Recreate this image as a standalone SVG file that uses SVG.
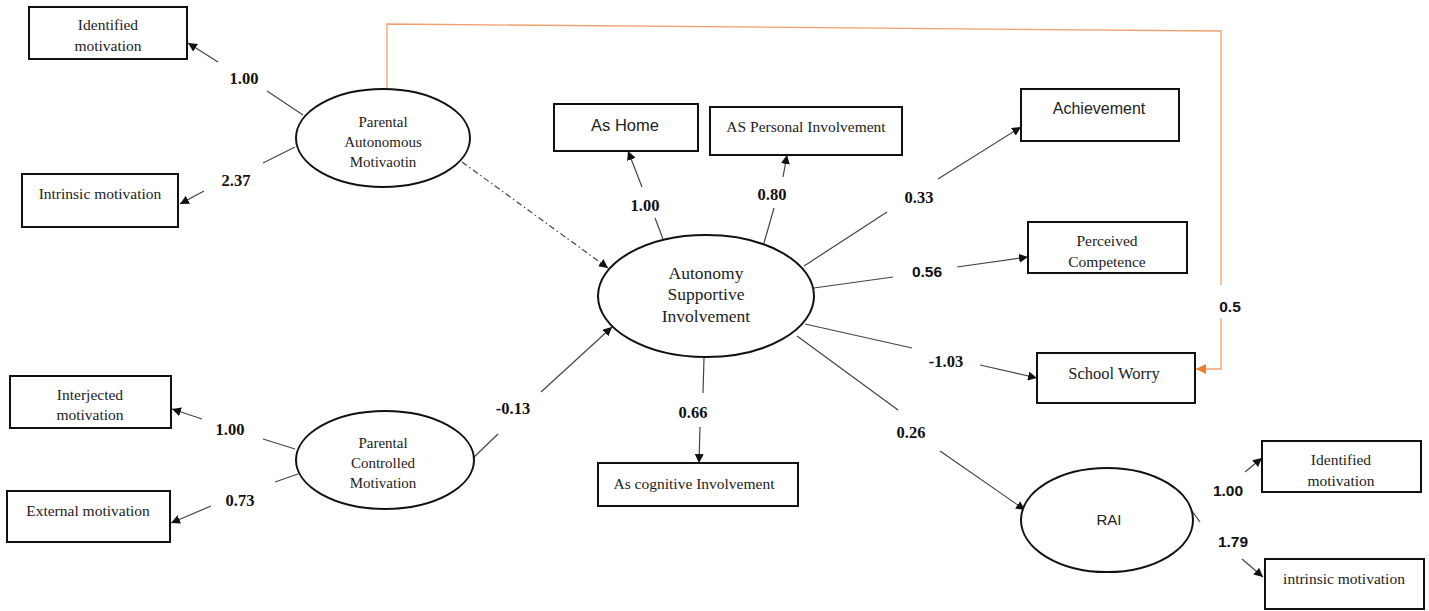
<svg xmlns="http://www.w3.org/2000/svg" width="1429" height="611" viewBox="0 0 1429 611">
<style>
.box{fill:#fff;stroke:#111;stroke-width:2}
.ell{fill:#fff;stroke:#111;stroke-width:2}
.t{font-family:"Liberation Serif","Times New Roman",serif;font-size:15.5px;fill:#222;text-anchor:middle}
.te{font-family:"Liberation Serif","Times New Roman",serif;font-size:15px;fill:#222;text-anchor:middle}
.ts{font-family:"Liberation Sans",Arial,sans-serif;font-size:16px;fill:#222;text-anchor:middle}
.lb{font-family:"Liberation Serif","Times New Roman",serif;font-size:16.5px;font-weight:bold;fill:#111;text-anchor:middle}
.lbs{font-family:"Liberation Sans",Arial,sans-serif;font-size:15.5px;font-weight:bold;fill:#111;text-anchor:middle}
.c{stroke:#444;stroke-width:1.2;fill:none}
.a{stroke:#444;stroke-width:1.2;fill:none;marker-end:url(#ah)}
.o{stroke:#f0a070;stroke-width:1.3;fill:none}
</style>
<defs>
<marker id="ah" viewBox="0 0 10 10" refX="10" refY="5" markerWidth="9" markerHeight="9" markerUnits="userSpaceOnUse" orient="auto">
<path d="M0,0 L10,5 L0,10 z" fill="#111"/>
</marker>
<marker id="aho" viewBox="0 0 10 10" refX="10" refY="5" markerWidth="10" markerHeight="10" markerUnits="userSpaceOnUse" orient="auto">
<path d="M0,0 L10,5 L0,10 z" fill="#ed7d31"/>
</marker>
</defs>
<rect width="1429" height="611" fill="#fff"/>

<g id="connectors">
<line class="c" x1="303" y1="115" x2="267" y2="91"/>
<line class="a" x1="218" y1="62" x2="188" y2="43"/>
<line class="c" x1="295" y1="147" x2="263" y2="163"/>
<line class="a" x1="204" y1="191" x2="180" y2="204"/>
<line class="c" x1="295" y1="449" x2="263" y2="439"/>
<line class="a" x1="202" y1="419" x2="172" y2="409"/>
<line class="c" x1="298" y1="474" x2="275" y2="482"/>
<line class="a" x1="211" y1="506" x2="171" y2="523"/>
<line x1="462" y1="162" x2="608" y2="268" stroke="#444" stroke-width="1.2" stroke-dasharray="6,3,1.5,3" marker-end="url(#ah)"/>
<line class="c" x1="472" y1="459" x2="498" y2="434"/>
<line class="a" x1="541" y1="392" x2="612" y2="327"/>
<line class="c" x1="663" y1="239" x2="655" y2="218"/>
<line class="a" x1="642" y1="187" x2="628" y2="151"/>
<line class="c" x1="764" y1="243" x2="774" y2="208"/>
<line class="a" x1="783" y1="177" x2="787" y2="155"/>
<line class="c" x1="704" y1="358" x2="703" y2="393"/>
<line class="a" x1="700" y1="427" x2="699" y2="463"/>
<line class="c" x1="804" y1="266" x2="887" y2="212"/>
<line class="a" x1="938" y1="179" x2="1021" y2="127"/>
<line class="c" x1="814" y1="288" x2="893" y2="277"/>
<line class="a" x1="957" y1="267" x2="1028" y2="257"/>
<line class="c" x1="805" y1="324" x2="912" y2="348"/>
<line class="a" x1="980" y1="365" x2="1037" y2="378"/>
<line class="c" x1="797" y1="336" x2="898" y2="410"/>
<line class="a" x1="940" y1="451" x2="1025" y2="510"/>
<line class="c" x1="1189" y1="507" x2="1200" y2="522"/>
<line class="a" x1="1245" y1="472" x2="1262" y2="458"/>
<line class="a" x1="1242" y1="559" x2="1263" y2="577"/>
<polyline class="o" points="387,89 387,24 1221,31 1221,285"/>
<polyline class="o" points="1221,318 1221,369 1196,369" marker-end="url(#aho)"/>
</g>

<g id="labels">
<text class="lb" x="244" y="84">1.00</text>
<text class="lb" x="236" y="186">2.37</text>
<text class="lb" x="230" y="435">1.00</text>
<text class="lb" x="240" y="506">0.73</text>
<text class="lb" x="513" y="414">-0.13</text>
<text class="lb" x="645" y="211">1.00</text>
<text class="lb" x="772" y="200">0.80</text>
<text class="lb" x="693" y="418">0.66</text>
<text class="lb" x="919" y="203">0.33</text>
<text class="lbs" x="927" y="277">0.56</text>
<text class="lb" x="946" y="367">-1.03</text>
<text class="lb" x="911" y="438">0.26</text>
<text class="lbs" x="1230" y="312">0.5</text>
<text class="lbs" x="1228" y="496">1.00</text>
<text class="lbs" x="1233" y="547">1.79</text>
</g>

<g id="pam">
<ellipse class="ell" cx="383" cy="138" rx="87" ry="49"/>
<text class="te" x="383" y="127">Parental</text>
<text class="te" x="383" y="147">Autonomous</text>
<text class="te" x="383" y="167">Motivaotin</text>
</g>
<g id="pcm">
<ellipse class="ell" cx="385" cy="460" rx="89" ry="49"/>
<text class="te" x="383" y="448">Parental</text>
<text class="te" x="383" y="468">Controlled</text>
<text class="te" x="383" y="488">Motivation</text>
</g>
<g id="asi">
<ellipse class="ell" cx="706" cy="296" rx="108" ry="61"/>
<text class="te" x="706" y="279" style="font-size:17.5px">Autonomy</text>
<text class="te" x="706" y="300" style="font-size:17.5px">Supportive</text>
<text class="te" x="706" y="322" style="font-size:17.5px">Involvement</text>
</g>
<g id="rai">
<ellipse class="ell" cx="1107" cy="520" rx="86" ry="52"/>
<text class="ts" x="1109" y="525" style="font-size:15px">RAI</text>
</g>

<g id="identified1">
<rect class="box" x="29" y="7" width="158" height="52"/>
<text class="t" x="108" y="30">Identified</text>
<text class="t" x="108" y="51">motivation</text>
</g>
<g id="intrinsic1">
<rect class="box" x="22" y="174" width="156" height="53"/>
<text class="t" x="100" y="199">Intrinsic motivation</text>
</g>
<g id="interjected">
<rect class="box" x="10" y="376" width="161" height="52"/>
<text class="t" x="90" y="400">Interjected</text>
<text class="t" x="90" y="420">motivation</text>
</g>
<g id="external">
<rect class="box" x="7" y="491" width="163" height="51"/>
<text class="t" x="88" y="516">External motivation</text>
</g>
<g id="ashome">
<rect class="box" x="554" y="104" width="144" height="47"/>
<text class="ts" x="625" y="131" style="font-size:16.5px">As Home</text>
</g>
<g id="aspersonal">
<rect class="box" x="710" y="107" width="192" height="48"/>
<text class="t" x="806" y="132">AS Personal Involvement</text>
</g>
<g id="ascognitive">
<rect class="box" x="598" y="463" width="200" height="43"/>
<text class="t" x="694" y="489">As cognitive Involvement</text>
</g>
<g id="achievement">
<rect class="box" x="1021" y="89" width="158" height="52"/>
<text class="ts" x="1099" y="114">Achievement</text>
</g>
<g id="competence">
<rect class="box" x="1028" y="222" width="159" height="51"/>
<text class="t" x="1107" y="246">Perceived</text>
<text class="t" x="1107" y="267">Competence</text>
</g>
<g id="schoolworry">
<rect class="box" x="1037" y="353" width="158" height="50"/>
<text class="t" x="1114" y="379" style="font-size:16.5px">School Worry</text>
</g>
<g id="identified2">
<rect class="box" x="1262" y="441" width="159" height="51"/>
<text class="t" x="1341" y="465">Identified</text>
<text class="t" x="1341" y="486">motivation</text>
</g>
<g id="intrinsic2">
<rect class="box" x="1265" y="559" width="159" height="50"/>
<text class="t" x="1344" y="584">intrinsic motivation</text>
</g>
</svg>
